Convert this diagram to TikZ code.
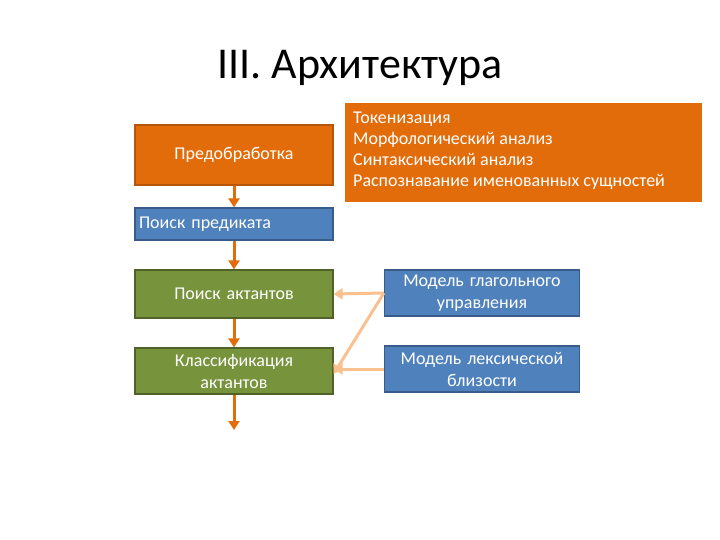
\documentclass[tikz,border=0pt]{standalone}
\usepackage{fontspec}
\setmainfont{Carlito}
\usetikzlibrary{arrows.meta}
\definecolor{org}{HTML}{E36C0A}
\definecolor{orgd}{HTML}{B5560A}
\definecolor{blu}{HTML}{4F81BD}
\definecolor{blud}{HTML}{385D8A}
\definecolor{grn}{HTML}{77933C}
\definecolor{grnd}{HTML}{4F6228}
\definecolor{peach}{HTML}{FAC090}
\tikzset{
 bx/.style={minimum width=198pt,text width=190pt,align=center,text=white,font=\fontsize{18}{22}\selectfont,line width=1.2pt,inner sep=2pt},
 ob/.style={bx,fill=org,draw=orgd},
 bb/.style={bx,fill=blu,draw=blud},
 gb/.style={bx,fill=grn,draw=grnd},
 mb/.style={bx,fill=blu,draw=blud,minimum width=195pt,text width=185pt},
 va/.style={draw=org,line width=3pt,-{Triangle[length=9pt,width=11pt]}},
 pa/.style={draw=peach,line width=3pt,-{Triangle[length=9pt,width=11pt]}}
}
\begin{document}
\begin{tikzpicture}[x=1pt,y=-1pt]
\useasboundingbox (0,0) rectangle (720,540);
\node (t) at (360,68) {\fontsize{44}{50}\selectfont III. Архитектура};
\node[fill=org,minimum width=357pt,minimum height=99pt,anchor=north west,inner sep=0pt] (o) at (345,103) {};
\node[text=white,font=\fontsize{18}{21}\selectfont,align=left,anchor=north west,inner sep=0pt] (ot) at (353,112) {Токенизация\\Морфологический анализ\\Синтаксический анализ\\Распознавание именованных сущностей};
\node[ob,minimum height=60pt] (a) at (234,155) {Предобработка};
\node[bb,minimum height=32pt,align=left,text width=190pt] (b) at (234,224) {Поиск предиката};
\node[gb,minimum height=48pt] (c) at (234,294) {Поиск актантов};
\node[gb,minimum height=46pt] (d) at (234,371) {Классификация\\актантов};
\node[mb,minimum height=46pt] (m1) at (482,293) {Модель глагольного\\управления};
\node[mb,minimum height=46pt] (m2) at (482,369) {Модель лексической\\близости};
\coordinate (e) at (234,430);
\draw[va] (a) -- (b);
\draw[va] (b) -- (c);
\draw[va] (c) -- (d);
\draw[va] (d) -- (e);
\draw[pa] (m1.west) -- (c.east);
\draw[pa] (m1.west) -- ([yshift=-3pt]d.east);
\draw[pa] (m2.west) -- (d.east|-m2.west);
\end{tikzpicture}
\end{document}
